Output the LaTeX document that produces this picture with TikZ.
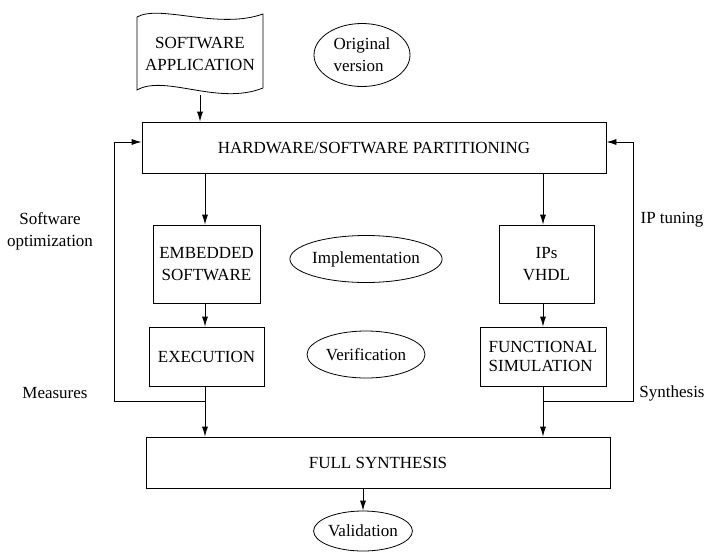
\documentclass[tikz,border=0pt]{standalone}
\usepackage{fontspec}
\setmainfont{Liberation Serif}
\usetikzlibrary{arrows.meta,shapes.geometric}
\begin{document}
\begin{tikzpicture}[x=1pt,y=-1pt,
  every node/.style={font=\fontsize{17}{22}\selectfont, inner sep=0pt},
  box/.style={draw, line width=0.8pt, rectangle, align=center},
  oval/.style={draw, line width=0.8pt, ellipse, align=center},
  lbl/.style={align=center},
  arr/.style={line width=0.8pt, -{Latex[length=10pt,width=6pt]}},
  fb/.style={line width=0.8pt}]
\useasboundingbox (0,0) rectangle (712,552);

% input document with wavy top and bottom edges
\draw[line width=0.8pt] (137,17) .. controls (160,4) and (218,30) .. (263,14)
  -- (263,88) .. controls (218,106) and (165,74) .. (137,90) -- cycle;
\node[lbl] (app) at (200,54) {SOFTWARE\\APPLICATION};
\coordinate (appbot) at (200,95);

\node[oval, minimum width=96pt, minimum height=63pt, align=left] (orig) at (362,55) {Original\\version};

% main flow
\node[box, minimum width=464pt, minimum height=51pt] (part) at (374,147.5) {HARDWARE/SOFTWARE PARTITIONING};
\node[box, minimum width=107pt, minimum height=78pt] (emb) at (206.5,264) {EMBEDDED\\SOFTWARE};
\node[box, minimum width=95pt, minimum height=78pt] (ips) at (546.5,264) {IPs\\VHDL};
\node[box, minimum width=115pt, minimum height=59pt] (exe) at (206.5,356.5) {EXECUTION};
\node[box, minimum width=126pt, minimum height=59pt, align=left, font=\fontsize{17}{19}\selectfont] (fun) at (543,356.5) {FUNCTIONAL\\SIMULATION};
\node[box, minimum width=464pt, minimum height=51pt] (full) at (378,462.5) {FULL SYNTHESIS};

\node[oval, minimum width=134pt, minimum height=47pt] (impl) at (366,259) {Implementation};
\node[oval, minimum width=118pt, minimum height=47pt] (verif) at (366,354.5) {Verification};
\node[oval, minimum width=96pt, minimum height=40pt] (valid) at (363,531) {Validation};

% side labels
\node[lbl] (swopt) at (50,231) {Software\\optimization};
\node[lbl] (iptun) at (672,220) {IP tuning};
\node[lbl] (meas) at (55,393) {Measures};
\node[lbl] (synth) at (672,393) {Synthesis};

% connectors
\coordinate (lx) at (205,0);
\coordinate (rx) at (543,0);
\draw[arr] (appbot) -- (appbot |- part.north);
\draw[arr] (part.south -| lx) -- (emb.north -| lx);
\draw[arr] (part.south -| rx) -- (ips.north -| rx);
\draw[arr] (emb.south -| lx) -- (exe.north -| lx);
\draw[arr] (ips.south -| rx) -- (fun.north -| rx);
\draw[arr] (exe.south -| lx) -- (full.north -| lx);
\draw[arr] (fun.south -| rx) -- (full.north -| rx);
\draw[arr] (full.south -| valid) -- (valid.north);

% feedback loops
\coordinate (lfb) at (205,401);
\coordinate (rfb) at (543,401);
\draw[arr] (lfb) -- (114,401) -- (114,142) -- (part.west |- 0,142);
\draw[arr] (rfb) -- (633,401) -- (633,142) -- (part.east |- 0,142);
\end{tikzpicture}
\end{document}
